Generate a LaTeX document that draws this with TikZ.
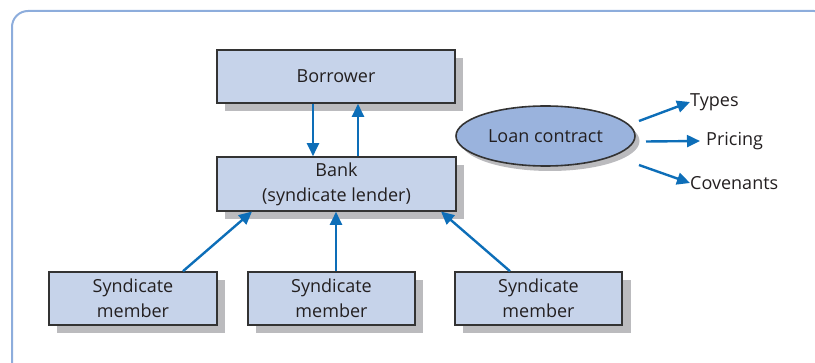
\documentclass[tikz,border=0pt]{standalone}
\usepackage{fontspec}
\setmainfont{Open Sans}
\usetikzlibrary{shapes.geometric,arrows.meta}
\definecolor{boxfill}{HTML}{C6D3EA}
\definecolor{ellfill}{HTML}{9AB3DD}
\definecolor{shadowc}{HTML}{BBBBBE}
\definecolor{arrowc}{HTML}{0D6EB8}
\definecolor{framec}{HTML}{8DADDC}
\definecolor{textc}{HTML}{231F20}
\tikzset{
  x=1pt,y=-1pt,
  every node/.style={font=\fontsize{18}{25}\selectfont, text=textc},
  boxshadow/.style={fill=shadowc, draw=none},
  entity/.style={draw=black!80, line width=1.6pt, fill=boxfill, align=center, inner sep=0pt},
  conn/.style={draw=arrowc, line width=2.4pt, -{Triangle[length=13pt,width=12pt]}},
}
\begin{document}
\begin{tikzpicture}
\useasboundingbox (0,0) rectangle (815,363);
\draw[framec, line width=2pt, rounded corners=16pt] (12,11) rectangle (830,380);
% shadows
\fill[shadowc] (225,58) rectangle (463,111);
\fill[shadowc] (225,165) rectangle (464,219);
\fill[shadowc] (57,280) rectangle (225,333);
\fill[shadowc] (256,280) rectangle (423,333);
\fill[shadowc] (463,280) rectangle (631,333);
\fill[shadowc] (550,141) ellipse [x radius=89.5, y radius=30];
% boxes
\node[entity, minimum width=238, minimum height=53] (borrower) at (336,76.5) {Borrower};
\node[entity, minimum width=239, minimum height=54] (bank) at (336.5,184) {Bank\\(syndicate lender)};
\node[entity, minimum width=168, minimum height=53] (m1) at (133,298.5) {Syndicate\\member};
\node[entity, minimum width=167, minimum height=53] (m2) at (331.5,298.5) {Syndicate\\member};
\node[entity, minimum width=167, minimum height=53] (m3) at (538.5,298.5) {Syndicate\\member};
\node[ellipse, draw=black!80, line width=1.6pt, fill=ellfill, minimum width=179, minimum height=60, inner sep=0pt] (loan) at (545.5,136) {Loan contract};
% texts
\node[anchor=west, inner sep=0pt] (types) at (690,102) {Types};
\node[anchor=west, inner sep=0pt] (pricing) at (706,141) {Pricing};
\node[anchor=west, inner sep=0pt] (cov) at (690,183) {Covenants};
% arrows
\draw[conn] (borrower.south -| 313,0) -- (bank.north -| 313,0);
\draw[conn] (bank.north -| 358,0) -- (borrower.south -| 358,0);
\draw[conn] (m1.north -| 183,0) -- (252,211.5);
\draw[conn] (m2.north -| 336,0) -- (bank.south -| 336,0);
\draw[conn] (m3.north -| 510,0) -- (441,211.5);
\draw[conn] (639,121) -- (types.west);
\draw[conn] (646,141.5) -- ([xshift=-6pt]pricing.west);
\draw[conn] (639,165) -- (cov.west);
\end{tikzpicture}
\end{document}
